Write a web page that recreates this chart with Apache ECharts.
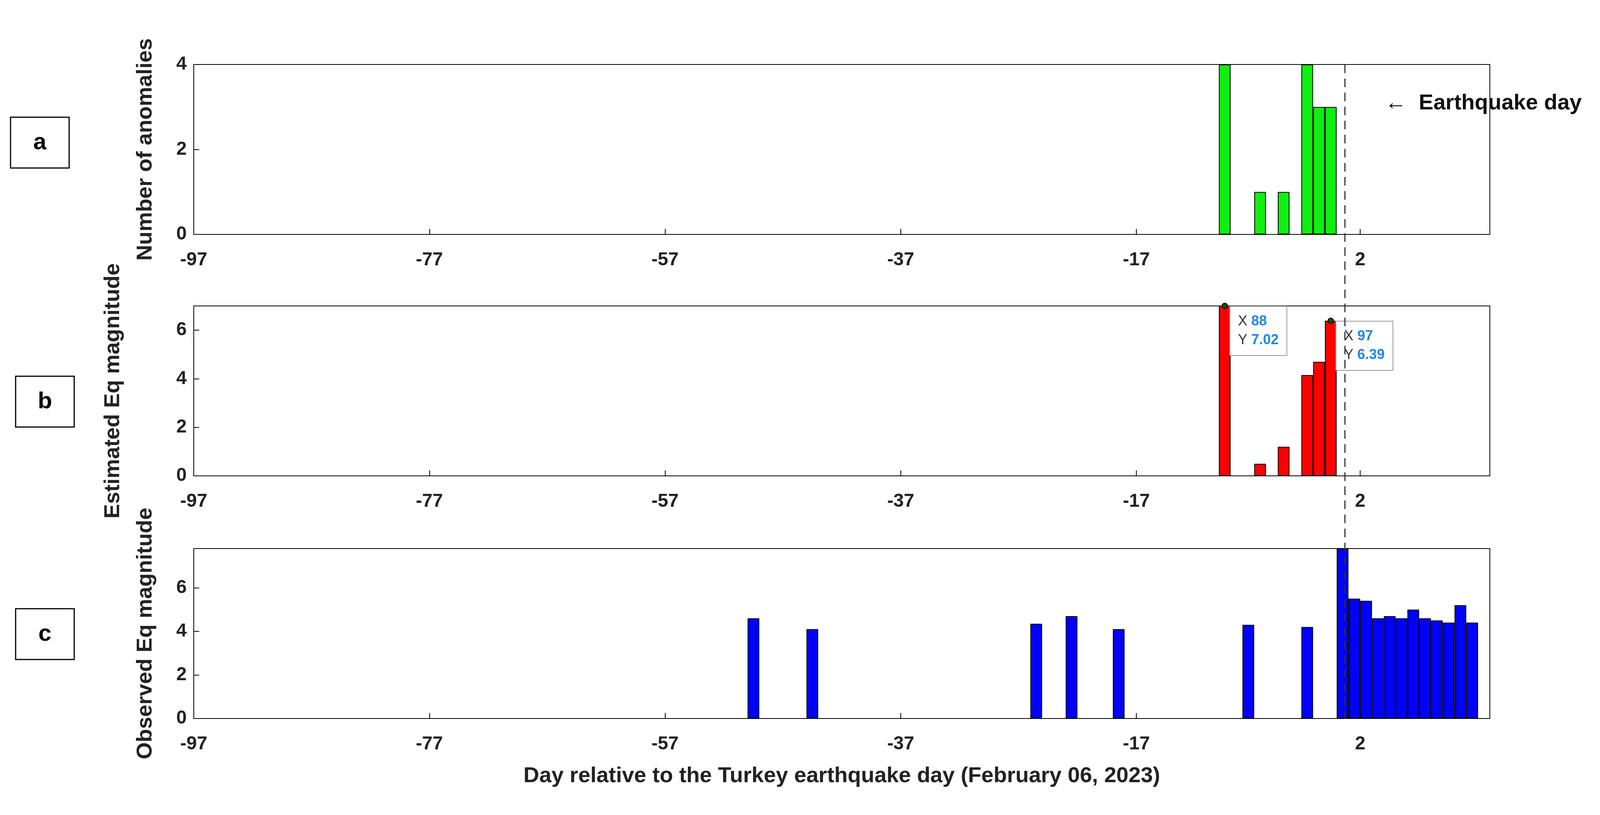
<!DOCTYPE html>
<html>
<head>
<meta charset="utf-8">
<script src="https://cdn.jsdelivr.net/npm/echarts@6/dist/echarts.min.js"></script>
<style>html,body{margin:0;background:#fff}#main{width:4162px;height:2086px}</style>
</head>
<body>
<div id="main"></div>
<script>
// day index (1..110), day -97 starts at index 0 edge
var anomalyDays = [88, 91, 93, 95, 96, 97];
var anomalyCounts = [4, 1, 1, 4, 3, 3];
var estDays = [88, 91, 93, 95, 96, 97];
var estMags = [7.02, 0.5, 1.2, 4.15, 4.7, 6.39];
var obsDays = [48, 53, 72, 75, 79, 90, 95, 98, 99, 100, 101, 102, 103, 104, 105, 106, 107, 108, 109];
var obsMags = [4.6, 4.1, 4.35, 4.7, 4.1, 4.3, 4.2, 7.8, 5.5, 5.4, 4.6, 4.7, 4.6, 5.0, 4.6, 4.5, 4.4, 5.2, 4.4];
var tickPos = [0, 20, 40, 60, 80, 99];
var tickLabels = ['-97', '-77', '-57', '-37', '-17', '2'];
var quakeLine = 97.7;

var font = 'Liberation Sans, Arial, sans-serif';
var myChart = echarts.init(document.getElementById('main'));

function pairs(days, vals){ return days.map(function(d, i){ return [d - 0.5, vals[i]]; }); }

var grids = [
    {left: 496, right: 348, top: 165, height: 435},
    {left: 496, right: 348, top: 783, height: 435},
    {left: 496, right: 348, top: 1404, height: 435}
];
grids.forEach(function(g){ g.show = true; g.borderColor = '#000'; g.borderWidth = 2; g.backgroundColor = '#fff'; });

function xAxis(i, name){
    return {
        type: 'value', gridIndex: i, min: 0, max: 110,
        axisLine: {lineStyle: {color: '#000', width: 2}},
        axisTick: {inside: true, length: 14, customValues: tickPos, lineStyle: {color: '#000', width: 2}},
        axisLabel: {customValues: tickPos, color: '#222', fontSize: 48, fontWeight: 'bold', fontFamily: font, margin: 42,
            formatter: function(v){ return tickLabels[tickPos.indexOf(Math.round(v))] || ''; }},
        splitLine: {show: false},
        name: name || '', nameLocation: 'middle', nameGap: 120,
        nameTextStyle: {fontSize: 56, fontWeight: 'bold', fontFamily: font, color: '#222'}
    };
}
function yAxis(i, max, name, gap){
    return {
        type: 'value', gridIndex: i, min: 0, max: max, interval: 2,
        axisLine: {show: true, lineStyle: {color: '#000', width: 2}},
        axisTick: {inside: true, length: 14, lineStyle: {color: '#000', width: 2}},
        axisLabel: {color: '#222', fontSize: 48, fontWeight: 'bold', fontFamily: font, margin: 18,
            showMaxLabel: max % 2 === 0},
        splitLine: {show: false},
        name: name, nameLocation: 'middle', nameGap: gap,
        nameTextStyle: {fontSize: 56, fontWeight: 'bold', fontFamily: font, color: '#222'}
    };
}

function tip(x, y, xs, ys){
    return {
        coord: [x, Math.min(y, 7)], symbol: 'circle', symbolSize: 14,
        itemStyle: {color: '#1b4d1b', borderColor: '#000'},
        label: {show: true, position: [22, 10], align: 'left', verticalAlign: 'top',
            backgroundColor: '#fff', borderColor: '#999', borderWidth: 2, padding: [14, 20, 14, 20],
            formatter: '{k|X}{v|' + xs + '}\n{k|Y}{v|' + ys + '}',
            rich: {k: {fontSize: 36, color: '#333', fontFamily: font, lineHeight: 48, width: 34},
                   v: {fontSize: 36, color: '#1e88e5', fontWeight: 'bold', fontFamily: font, lineHeight: 48}}}
    };
}

var option = {
    animation: false,
    grid: grids,
    xAxis: [xAxis(0), xAxis(1), xAxis(2, 'Day relative to the Turkey earthquake day (February 06, 2023)')],
    yAxis: [yAxis(0, 4, 'Number of anomalies', 95), yAxis(1, 7, 'Estimated Eq magnitude', 178), yAxis(2, 7.8, 'Observed Eq magnitude', 95)],
    series: [
        {type: 'bar', xAxisIndex: 0, yAxisIndex: 0, barWidth: 30, data: pairs(anomalyDays, anomalyCounts),
            itemStyle: {color: '#11ee11', borderColor: '#000', borderWidth: 2}},
        {type: 'bar', xAxisIndex: 1, yAxisIndex: 1, barWidth: 30, data: pairs(estDays, estMags),
            itemStyle: {color: '#ff0000', borderColor: '#000', borderWidth: 2},
            markPoint: {z: 20, data: [tip(88 - 0.5, 7.02, '88', '7.02'), tip(97 - 0.5, 6.39, '97', '6.39')]}},
        {type: 'bar', xAxisIndex: 2, yAxisIndex: 2, barWidth: 30, data: pairs(obsDays, obsMags),
            itemStyle: {color: '#0000ff', borderColor: '#000', borderWidth: 2}}
    ]
};
myChart.setOption(option);

// panel letters, annotation and the dashed earthquake-day line across panels
var lx = myChart.convertToPixel({xAxisIndex: 0}, quakeLine);
function box(x, y, t){
    return {type: 'group', children: [
        {type: 'rect', shape: {x: x, y: y, width: 150, height: 130}, style: {fill: '#fff', stroke: '#000', lineWidth: 3}},
        {type: 'text', x: x + 75, y: y + 65, style: {text: t, fontSize: 60, fontWeight: 'bold', fontFamily: font, fill: '#000', align: 'center', verticalAlign: 'middle'}}
    ]};
}
myChart.setOption({graphic: [
    {type: 'line', z: 100, shape: {x1: lx, y1: 165, x2: lx, y2: 1839},
        style: {stroke: '#333', lineWidth: 3, lineDash: [22, 14]}},
    {type: 'text', x: 3545, y: 265, style: {text: '\u2190  Earthquake day', fontSize: 56, fontWeight: 'bold', fontFamily: font, fill: '#111', verticalAlign: 'middle'}},
    box(27, 300, 'a'), box(40, 963, 'b'), box(40, 1558, 'c')
]});
</script>
</body>
</html>
